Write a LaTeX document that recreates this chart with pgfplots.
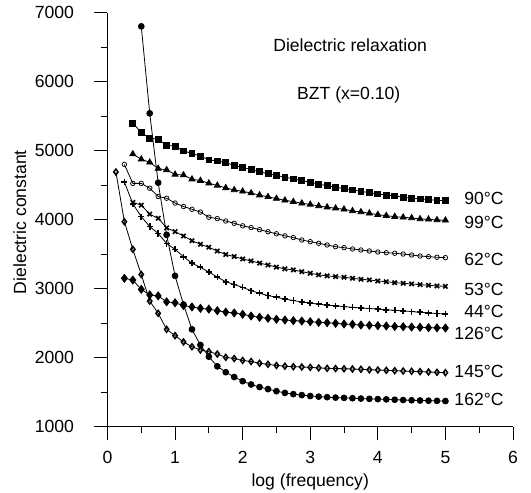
\documentclass[border=0pt]{standalone}
\usepackage{fontspec}
\setmainfont{Liberation Sans}
\usepackage{pgfplots}
\pgfplotsset{compat=1.18}

\begin{document}
\fontsize{13.2}{15}\selectfont
\begin{tikzpicture}
\path[use as bounding box] (-80.6pt,-49.7pt) rectangle (317.6pt,320pt);
\begin{axis}[
  at={(0,0)}, anchor=south west,
  scale only axis, width=304.1pt, height=310.6pt,
  xmin=0, xmax=6, ymin=1000, ymax=7000,
  axis lines=left,
  axis line style={-, line width=0.6pt},
  x axis line style={-}, y axis line style={-},
  tick align=outside,
  major tick length=10pt, minor tick length=5pt,
  tick style={black, line width=0.6pt},
  xtick={0,1,2,3,4,5,6}, minor xtick={0.5,1.5,2.5,3.5,4.5,5.5},
  ytick={1000,2000,3000,4000,5000,6000,7000},
  minor ytick={1500,2500,3500,4500,5500,6500},
  /pgf/number format/assume math mode=true,
  /pgf/number format/1000 sep={},
  xticklabel style={yshift=-4pt},
  yticklabel style={xshift=-10.5pt},
  clip=false,
  xlabel={log (frequency)},
  ylabel={Dielectric constant},
  every axis x label/.style={at={(axis description cs:0.5,-0.133)}, anchor=center},
  every axis y label/.style={at={(axis description cs:-0.216,0.494)}, rotate=90, anchor=center},
  every axis plot/.append style={black, line width=0.6pt},
]
% 90 C
\addplot[mark=square*, mark size=2.2pt] coordinates {
(0.375,5400) (0.5,5260) (0.625,5180) (0.75,5165) (0.875,5075) (1.0,5065)
(1.125,4995) (1.25,4960) (1.375,4920) (1.5,4865) (1.625,4850) (1.75,4825)
(1.875,4785) (2.0,4755) (2.125,4725) (2.25,4695) (2.375,4665) (2.5,4640)
(2.625,4615) (2.75,4590) (2.875,4565) (3.0,4540) (3.125,4515) (3.25,4490)
(3.375,4470) (3.5,4450) (3.625,4430) (3.75,4410) (3.875,4390) (4.0,4372)
(4.125,4357) (4.25,4343) (4.375,4325) (4.5,4310) (4.625,4300) (4.75,4290)
(4.875,4280) (5.0,4275)
};
% 99 C
\addplot[mark=triangle*, mark size=2.6pt] coordinates {
(0.375,4950) (0.5,4875) (0.625,4830) (0.75,4740) (0.875,4720) (1.0,4655)
(1.125,4645) (1.25,4585) (1.375,4565) (1.5,4527) (1.625,4495) (1.75,4460)
(1.875,4430) (2.0,4410) (2.125,4385) (2.25,4355) (2.375,4330) (2.5,4305)
(2.625,4280) (2.75,4260) (2.875,4237) (3.0,4220) (3.125,4198) (3.25,4180)
(3.375,4165) (3.5,4150) (3.625,4126) (3.75,4111) (3.875,4092) (4.0,4072)
(4.125,4057) (4.25,4043) (4.375,4034) (4.5,4024) (4.625,4010) (4.75,4005)
(4.875,3995) (5.0,3990)
};
% 62 C
\addplot[mark=o, mark size=1.7pt, mark options={fill=white, line width=0.55pt}] coordinates {
(0.25,4800) (0.375,4525) (0.5,4525) (0.625,4455) (0.75,4335) (0.875,4310)
(1.0,4240) (1.125,4190) (1.25,4150) (1.375,4110) (1.5,4035) (1.625,4015)
(1.75,3980) (1.875,3947) (2.0,3910) (2.125,3885) (2.25,3855) (2.375,3825)
(2.5,3795) (2.625,3765) (2.75,3740) (2.875,3705) (3.0,3681) (3.125,3657)
(3.25,3633) (3.375,3608) (3.5,3594) (3.625,3575) (3.75,3560) (3.875,3546)
(4.0,3531) (4.125,3521) (4.25,3513) (4.375,3502) (4.5,3488) (4.625,3473)
(4.75,3464) (4.875,3455) (5.0,3449)
};
% 53 C
\addplot[mark=x, mark size=2.3pt, mark options={line width=1.2pt}] coordinates {
(0.375,4250) (0.5,4210) (0.625,4080) (0.75,4020) (0.875,3880) (1.0,3826)
(1.125,3763) (1.25,3695) (1.375,3643) (1.5,3600) (1.625,3545) (1.75,3495)
(1.875,3465) (2.0,3430) (2.125,3401) (2.25,3370) (2.375,3343) (2.5,3312)
(2.625,3287) (2.75,3271) (2.875,3246) (3.0,3223) (3.125,3200) (3.25,3186)
(3.375,3174) (3.5,3165) (3.625,3150) (3.75,3136) (3.875,3126) (4.0,3111)
(4.125,3101) (4.25,3087) (4.375,3078) (4.5,3068) (4.625,3058) (4.75,3049)
(4.875,3039) (5.0,3034)
};
% 44 C
\addplot[mark=+, mark size=2.3pt, mark options={line width=1.2pt}] coordinates {
(0.25,4545) (0.375,4230) (0.5,4043) (0.625,3900) (0.75,3800) (0.875,3655)
(1.0,3570) (1.125,3463) (1.25,3368) (1.375,3310) (1.5,3240) (1.625,3168)
(1.75,3100) (1.875,3060) (2.0,3018) (2.125,2971) (2.25,2933) (2.375,2900)
(2.5,2875) (2.625,2850) (2.75,2828) (2.875,2808) (3.0,2790) (3.125,2775)
(3.25,2762) (3.375,2750) (3.5,2740) (3.625,2730) (3.75,2720) (3.875,2712)
(4.0,2704) (4.125,2695) (4.25,2686) (4.375,2678) (4.5,2668) (4.625,2658)
(4.75,2648) (4.875,2640) (5.0,2633)
};
% 126 C
\addplot[mark=diamond*, mark size=3pt] coordinates {
(0.25,3150) (0.375,3125) (0.5,2990) (0.625,2910) (0.75,2895) (0.875,2810)
(1.0,2795) (1.125,2755) (1.25,2735) (1.375,2715) (1.5,2703) (1.625,2681)
(1.75,2660) (1.875,2648) (2.0,2628) (2.125,2604) (2.25,2585) (2.375,2571)
(2.5,2556) (2.625,2546) (2.75,2536) (2.875,2531) (3.0,2522) (3.125,2512)
(3.25,2507) (3.375,2498) (3.5,2488) (3.625,2483) (3.75,2473) (3.875,2469)
(4.0,2464) (4.125,2459) (4.25,2452) (4.375,2449) (4.5,2444) (4.625,2440)
(4.75,2435) (4.875,2433) (5.0,2430)
};
% 145 C
\addplot[mark=diamond, mark size=2.2pt, mark options={fill=white, line width=1.1pt}] coordinates {
(0.125,4690) (0.25,3970) (0.375,3570) (0.5,3205) (0.625,2820) (0.75,2643)
(0.875,2411) (1.0,2320) (1.125,2228) (1.25,2159) (1.375,2111) (1.5,2087)
(1.625,2053) (1.75,2005) (1.875,1988) (2.0,1960) (2.125,1945) (2.25,1919)
(2.375,1904) (2.5,1887) (2.625,1877) (2.75,1870) (2.875,1865) (3.0,1860)
(3.125,1852) (3.25,1846) (3.375,1843) (3.5,1840) (3.625,1836) (3.75,1832)
(3.875,1825) (4.0,1822) (4.125,1817) (4.25,1812) (4.375,1807) (4.5,1803)
(4.625,1798) (4.75,1793) (4.875,1788) (5.0,1783)
};
% 162 C
\addplot[mark=*, mark size=2.2pt] coordinates {
(0.5,6800) (0.625,5540) (0.75,4535) (0.875,3780) (1.0,3185) (1.125,2770)
(1.25,2411) (1.375,2184) (1.5,2014) (1.625,1875) (1.75,1790) (1.875,1720)
(2.0,1660) (2.125,1612) (2.25,1575) (2.375,1545) (2.5,1515) (2.625,1490)
(2.75,1472) (2.875,1458) (3.0,1445) (3.125,1436) (3.25,1428) (3.375,1422)
(3.5,1418) (3.625,1413) (3.75,1408) (3.875,1404) (4.0,1400) (4.125,1396)
(4.25,1391) (4.375,1387) (4.5,1383) (4.625,1380) (4.75,1377) (4.875,1375)
(5.0,1372)
};
\node at (axis cs:3.59,6531) {Dielectric relaxation};
\node at (axis cs:3.57,5805) {BZT (x=0.10)};
\node[anchor=east, inner sep=0pt] at (axis cs:5.865,4310) {90°C};
\node[anchor=east, inner sep=0pt] at (axis cs:5.865,3956) {99°C};
\node[anchor=east, inner sep=0pt] at (axis cs:5.865,3425) {62°C};
\node[anchor=east, inner sep=0pt] at (axis cs:5.865,2991) {53°C};
\node[anchor=east, inner sep=0pt] at (axis cs:5.865,2666) {44°C};
\node[anchor=east, inner sep=0pt] at (axis cs:5.865,2353) {126°C};
\node[anchor=east, inner sep=0pt] at (axis cs:5.865,1807) {145°C};
\node[anchor=east, inner sep=0pt] at (axis cs:5.865,1397) {162°C};
\end{axis}
\end{tikzpicture}
\end{document}
